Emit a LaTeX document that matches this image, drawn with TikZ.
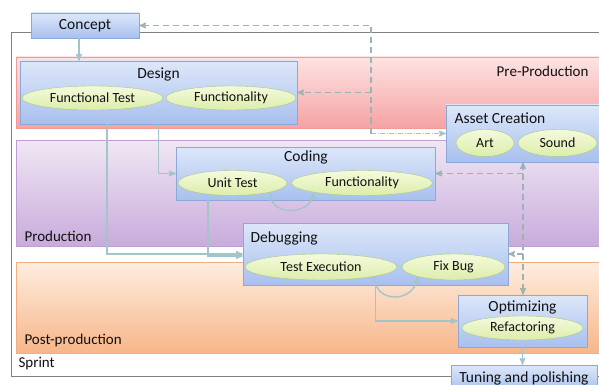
\documentclass[tikz,border=0pt]{standalone}
\usepackage{fontspec}
\setmainfont{Carlito}
\usetikzlibrary{arrows, positioning, shapes.geometric}

\definecolor{txt}{HTML}{111111}
\definecolor{boxtop}{HTML}{DDE7F9}
\definecolor{boxbot}{HTML}{A8C0EE}
\definecolor{boxline}{HTML}{8DA8D8}
\definecolor{ovaltop}{HTML}{F4FADC}
\definecolor{ovalbot}{HTML}{DCEDAA}
\definecolor{ovalline}{HTML}{A9C97E}
\definecolor{pretop}{HTML}{FDE3E3}
\definecolor{prebot}{HTML}{F5A3A3}
\definecolor{preline}{HTML}{F09A9A}
\definecolor{prodtop}{HTML}{F0E7F4}
\definecolor{prodbot}{HTML}{C8ABDC}
\definecolor{prodline}{HTML}{BE9ED2}
\definecolor{posttop}{HTML}{FEEDE0}
\definecolor{postbot}{HTML}{F7B689}
\definecolor{postline}{HTML}{F2AE80}
\definecolor{flowc}{HTML}{A3C5CA}
\definecolor{dashc}{HTML}{9DB2B3}

\begin{document}
\begin{tikzpicture}[x=1pt, y=-1pt,
	every node/.style={text=txt},
	box/.style={draw=boxline, top color=boxtop, bottom color=boxbot, inner sep=0pt},
	oval/.style={ellipse, draw=ovalline, top color=ovaltop, bottom color=ovalbot, inner sep=0pt, font=\fontsize{14}{16}\selectfont},
	band/.style={inner sep=0pt, minimum width=596pt},
	title/.style={font=\fontsize{15.5}{18}\selectfont},
	tag/.style={anchor=west, font=\fontsize{15}{18}\selectfont},
	frame/.style={draw=gray, line width=0.8pt},
	flow/.style={draw=flowc, line width=1.4pt, -stealth'},
	fback/.style={draw=dashc, line width=1.4pt, dash pattern=on 6pt off 4pt, -stealth'},
	vh/.style={to path={|- (\tikztotarget)}}
]
	\useasboundingbox (0,0) rectangle (599,385);
	\clip (0,0) rectangle (599,385);
	% phases
	\draw [frame] (11,32) rectangle (612,376);
	\node (pre) [band, minimum height=71pt, draw=preline, top color=pretop, bottom color=prebot] at (314,92.5) {};
	\node (prod) [band, minimum height=106pt, draw=prodline, top color=prodtop, bottom color=prodbot] at (314,193) {};
	\node (post) [band, minimum height=91pt, draw=postline, top color=posttop, bottom color=postbot] at (314,307.5) {};
	\node (pre-t) [tag, anchor=east] at (592,71) {Pre-Production};
	\node (prod-t) [tag] at (21,236) {Production};
	\node (post-t) [tag] at (21,340) {Post-production};
	\node (sprint-t) [tag] at (15,364) {Sprint};

	% stages
	\node (concept) [box, title, minimum width=108pt, minimum height=25pt] at (85,25.5) {Concept};
	\node (design) [box, minimum width=277pt, minimum height=63pt] at (158.5,92.5) {};
	\node (design-t) [title] at (158.5,75) {Design};
	\node (ftest) [oval, minimum width=141pt, minimum height=24pt] at (92.5,98) {Functional Test};
	\node (dfunc) [oval, minimum width=130pt, minimum height=24pt] at (231,98) {Functionality};

	\node (asset) [box, minimum width=158pt, minimum height=57pt] at (525,133.5) {};
	\node (asset-t) [title, anchor=west] at (451,118) {Asset Creation};
	\node (art) [oval, minimum width=58pt, minimum height=27pt] at (485,143) {Art};
	\node (sound) [oval, minimum width=79pt, minimum height=27pt] at (557.5,143) {Sound};

	\node (coding) [box, minimum width=259pt, minimum height=53pt] at (305.5,173.5) {};
	\node (coding-t) [title] at (306,157) {Coding};
	\node (unittest) [oval, minimum width=109pt, minimum height=25pt] at (232.5,183) {Unit Test};
	\node (cfunc) [oval, minimum width=141pt, minimum height=25pt] at (362,183) {Functionality};

	\node (debugging) [box, minimum width=265pt, minimum height=62pt] at (375.5,254) {};
	\node (debugging-t) [title, anchor=west] at (247,238) {Debugging};
	\node (testexec) [oval, minimum width=152pt, minimum height=26pt] at (321,267) {Test Execution};
	\node (fixbug) [oval, minimum width=103pt, minimum height=26pt] at (453.5,267) {Fix Bug};

	\node (optimizing) [box, minimum width=129pt, minimum height=52pt] at (522.5,321) {};
	\node (optimizing-t) [title] at (522.5,307) {Optimizing};
	\node (refactoring) [oval, minimum width=121pt, minimum height=24pt] at (522.5,328) {Refactoring};

	\node (tuning) [box, title, minimum width=146pt, minimum height=26pt] at (524,378) {Tuning and polishing};

	\coordinate (j1) at (371,133.5);
	\coordinate (j2) at (523,173.5);

	\path
		([xshift=-6pt]concept.south) edge [flow] ([xshift=-6pt]concept.south |- design.north)
		(design.south) edge [flow, vh] (coding.west)
		([xshift=-51.5pt]design.south) edge [flow, vh] (debugging.west)
		([xshift=-97.5pt]coding.south) edge [flow, vh] ([yshift=-2pt]debugging.west)
		(debugging.south) edge [flow, vh] (optimizing.west)
		(optimizing.south) edge [flow] (optimizing.south |- tuning.north)
		(unittest.-14) edge [flow, out=-90, in=-100, looseness=1.4] (cfunc.-169)
		(testexec.-10) edge [flow, out=-90, in=-100, looseness=1.6] (fixbug.-165)
		(j1) edge [flow, dash pattern=on 5pt off 1.5pt on 1pt off 1.5pt] (asset.west)
		(j1) edge [fback, vh] (concept.east)
		(j1 |- design.east) edge [fback] (design.east)
		(asset.south -| j2) edge [fback, stealth'-stealth'] (optimizing.north -| j2)
		(j2) edge [fback] (coding.east)
		(j2 |- debugging.east) edge [fback] (debugging.east)
	;
\end{tikzpicture}
\end{document}
